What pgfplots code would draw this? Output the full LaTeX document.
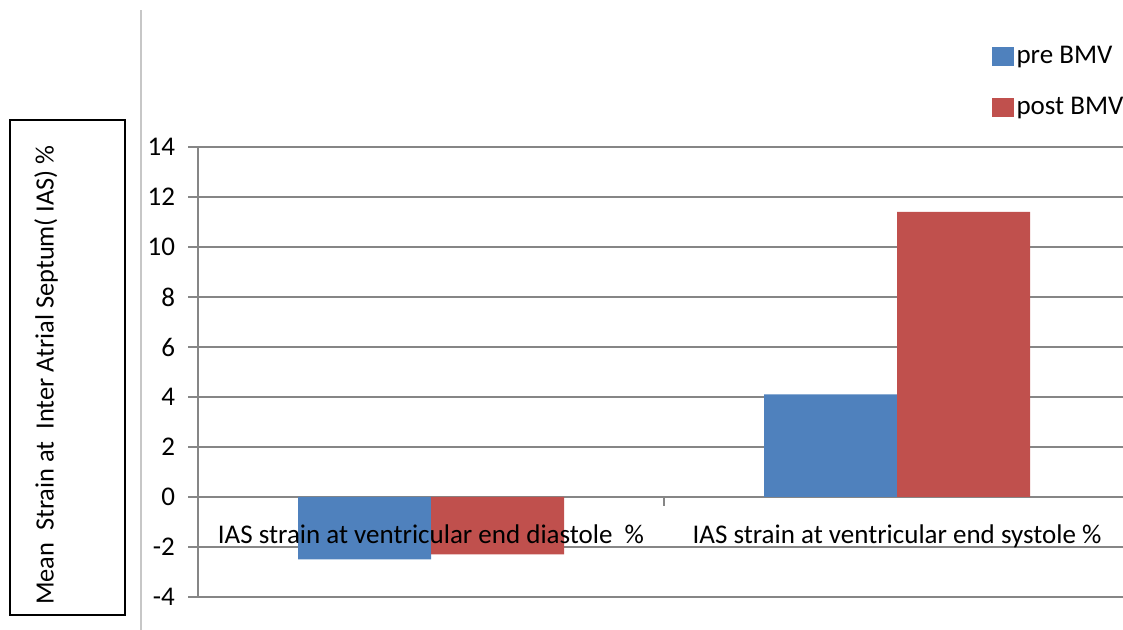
\documentclass[border=0pt]{standalone}
\usepackage{pgfplots}
\pgfplotsset{compat=1.18}
\usepackage{fontspec}
\setmainfont{Carlito}
\definecolor{preblue}{HTML}{4F81BD}
\definecolor{postred}{HTML}{C0504D}
\definecolor{gridgray}{HTML}{868686}
\newcommand{\chartfont}{\fontsize{13.5}{15.5}\selectfont}
\begin{document}
\begin{tikzpicture}[x=0.5pt,y=0.5pt]
\path[use as bounding box] (0,0) rectangle (1123,630);
% separator line and boxed y label
\draw[line width=1pt, color=black!22] (141,0) -- (141,620);
\draw[line width=0.8pt] (10,15) rectangle (125,510);
\node[rotate=90, font=\fontsize{13.2}{15}\selectfont, anchor=center] at (46,255) {Mean\ \ Strain at\ \ Inter Atrial Septum( IAS) \%};
\begin{axis}[
  at={(99pt,16.5pt)}, anchor=south west,
  scale only axis,
  width=466pt, height=225pt,
  xmin=-0.5, xmax=1.5,
  ymin=-4, ymax=14,
  ytick={-4,-2,...,14},
  xtick=\empty,
  axis x line=middle,
  axis y line=left,
  axis line style={-, color=gridgray, line width=0.7pt},
  ymajorgrids,
  major grid style={color=gridgray, line width=0.7pt},
  y tick style={color=gridgray, line width=0.7pt},
  tick align=outside,
  major tick length=5pt,
  ticklabel style={font=\chartfont, color=black},
  /pgf/number format/assume math mode=true,
  yticklabel style={xshift=-3pt},
  ybar=0pt,
  bar width=66.5pt,
  legend style={at={(0.851,1.234)}, anchor=north west, draw=none, fill=none,
    font=\chartfont, inner sep=0pt, row sep=11.5pt,
    legend cell align=left,
    nodes={inner xsep=1.5pt}},
  legend image code/.code={\fill[#1] (0pt,-4.75pt) rectangle (11pt,4.75pt);},
  clip=false,
]
\addplot[fill=preblue, draw=none] coordinates {(0,-2.5) (1,4.1)};
\addplot[fill=postred, draw=none] coordinates {(0,-2.3) (1,11.4)};
\legend{pre BMV, post BMV}
% boundary tick between the two categories
\draw[color=gridgray, line width=0.7pt] (axis cs:0.5,0) -- (axis cs:0.5,-0.36);
% category names, set over the bars
\node[font=\chartfont, anchor=north, yshift=-10.5pt] at (axis cs:0,0) {IAS strain at ventricular end diastole\ \ \%};
\node[font=\chartfont, anchor=north, yshift=-10.5pt] at (axis cs:1,0) {IAS strain at ventricular end systole \%};
\end{axis}
\end{tikzpicture}
\end{document}
